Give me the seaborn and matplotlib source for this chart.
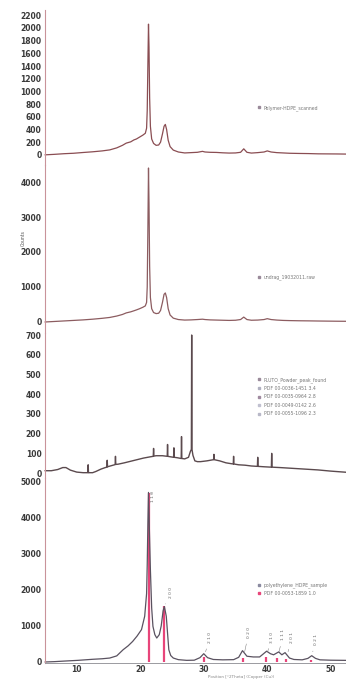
import matplotlib
matplotlib.use("Agg")
import matplotlib.pyplot as plt
import seaborn as sns
from matplotlib.lines import Line2D

sns.set_style("white")
plt.rcParams['font.family'] = ['DejaVu Sans']

# --- data (2theta in degrees, counts) ---
two_theta_top = [5.0, 6.5, 8.0, 9.5, 11.0, 12.5, 14.0, 15.2, 16.3, 17.2, 17.8, 18.5, 19.0, 19.4, 19.9,
                 20.4, 20.8, 21.0, 21.1, 21.2, 21.3, 21.38, 21.48, 21.6, 21.8, 22.1, 22.5, 22.9, 23.2, 23.5,
                 23.75, 23.95, 24.15, 24.4, 24.7, 25.2, 26.0, 27.0, 28.0, 29.0, 29.8, 30.2, 31.0, 32.0, 33.0,
                 34.0, 35.0, 35.8, 36.3, 36.8, 37.5, 38.5, 39.5, 40.0, 40.6, 41.5, 42.5, 43.5, 45.0, 46.5,
                 48.0, 49.5, 51.0, 52.5]
counts_polymer = [0, 8, 18, 25, 37, 48, 62, 78, 110, 150, 185, 205, 235, 250, 280,
                  310, 340, 420, 700, 1400, 2060, 1700, 900, 450, 250, 180, 150, 155, 200, 330,
                  450, 480, 400, 230, 130, 75, 45, 30, 35, 40, 55, 45, 40, 38, 32,
                  28, 30, 40, 95, 40, 28, 35, 45, 62, 45, 35, 30, 25, 22, 20,
                  16, 15, 14, 12]
counts_undrawn = [0, 15, 30, 45, 60, 80, 105, 130, 170, 215, 260, 290, 320, 345, 380,
                  420, 460, 560, 1000, 2600, 4400, 3400, 1600, 700, 380, 270, 240, 250, 330, 560,
                  790, 830, 700, 380, 200, 110, 70, 55, 60, 70, 80, 70, 60, 55, 50,
                  45, 50, 70, 140, 70, 50, 55, 70, 95, 70, 55, 45, 40, 35, 32,
                  28, 25, 22, 20]

two_theta_powder = [5.0, 6.0, 7.0, 7.8, 8.3, 9.0, 10.0, 11.0, 11.75, 11.8, 11.85, 12.5, 13.0, 13.8, 14.5,
                    14.75, 14.8, 14.85, 15.5, 16.05, 16.1, 16.15, 16.5, 17.5, 18.5, 19.5, 20.5, 21.5, 22.05, 22.1,
                    22.15, 22.5, 23.5, 24.25, 24.3, 24.35, 24.5, 25.25, 25.3, 25.35, 25.8, 26.45, 26.5, 26.55, 27.0,
                    27.6, 27.9, 28.05, 28.1, 28.15, 28.3, 28.6, 29.0, 29.5, 30.5, 31.55, 31.6, 31.65, 32.5, 33.5,
                    34.65, 34.7, 34.75, 35.5, 36.5, 37.5, 38.45, 38.5, 38.55, 39.5, 40.65, 40.7, 40.75, 42.0, 44.0,
                    46.0, 48.0, 50.0, 52.5]
counts_powder = [12, 12, 18, 28, 28, 15, 5, 2, 2, 42, 2, 2, 8, 20, 28,
                 30, 65, 32, 38, 43, 85, 44, 45, 52, 60, 68, 76, 82, 85, 125,
                 86, 88, 88, 85, 145, 85, 84, 80, 128, 80, 78, 74, 185, 74, 72,
                 80, 110, 120, 700, 120, 90, 62, 58, 58, 62, 68, 95, 68, 62, 52,
                 46, 85, 46, 42, 40, 36, 34, 80, 34, 32, 30, 100, 30, 28, 24,
                 20, 16, 10, 4]

two_theta_pe = [5.0, 6.5, 8.0, 10.2, 12.5, 14.0, 15.2, 16.3, 17.3, 18.1, 18.8, 19.5, 20.2, 20.7, 21.0,
                21.1, 21.2, 21.3, 21.45, 21.6, 21.8, 22.0, 22.3, 22.6, 23.0, 23.3, 23.6, 23.8, 24.1, 24.3,
                24.5, 24.8, 25.2, 26.0, 27.3, 28.5, 29.4, 30.0, 30.6, 31.5, 33.0, 34.7, 35.5, 36.1, 36.8,
                37.8, 38.8, 39.9, 40.5, 41.0, 41.8, 42.3, 42.8, 43.5, 44.2, 45.5, 46.4, 47.0, 47.6, 48.3,
                50.0, 52.5]
counts_pe = [0, 10, 25, 46, 75, 90, 110, 170, 340, 450, 570, 720, 900, 1270, 1900,
             2700, 3800, 4710, 3600, 2560, 1500, 990, 760, 666, 760, 1000, 1420, 1540, 1270, 800,
             340, 180, 110, 65, 46, 50, 120, 230, 120, 70, 60, 65, 130, 315, 160,
             140, 140, 300, 230, 200, 280, 200, 260, 110, 70, 60, 100, 175, 100, 60,
             50, 45]

ref_pos = [21.4, 23.8, 30.0, 36.2, 39.8, 41.6, 43.0, 46.9]
ref_int = [4700, 1550, 150, 110, 140, 100, 80, 60]
hkl = ["1 1 0", "2 0 0", "2 1 0", "0 2 0", "3 1 0", "1 1 1", "2 0 1", "0 2 1"]
hkl_text_x = [22.0, 24.8, 31.0, 37.1, 40.7, 42.5, 43.9, 47.7]
hkl_text_y = [4450, 1780, 530, 670, 540, 600, 520, 470]

legend_1 = ["Polymer-HDPE_scanned"]
legend_2 = ["undrag_19032011.raw"]
legend_3 = ["PLUTO_Powder_peak_found", "PDF 00-0036-1451 3.4", "PDF 00-0035-0964 2.8",
            "PDF 00-0049-0142 2.6", "PDF 00-0055-1096 2.3"]
legend_4 = ["polyethylene_HDPE_sample", "PDF 00-0053-1859 1.0"]

# --- layout ---
fig = plt.figure(figsize=(3.46, 6.79), dpi=100)
left, width = 0.130, 0.870
ax1 = fig.add_axes([left, 0.757, width, 0.228])
ax2 = fig.add_axes([left, 0.5096, width, 0.2474])
ax3 = fig.add_axes([left, 0.296, width, 0.2135])
ax4 = fig.add_axes([left, 0.02356, width, 0.2725])
axes = [ax1, ax2, ax3, ax4]

tick_kw = dict(fontsize=5.5, fontweight='bold', color='#3a3a3a')

sns.lineplot(x=two_theta_top, y=counts_polymer, ax=ax1, color='#8a4d52', lw=0.9, estimator=None)
sns.lineplot(x=two_theta_top, y=counts_undrawn, ax=ax2, color='#8c5c60', lw=0.9, estimator=None)
sns.lineplot(x=two_theta_powder, y=counts_powder, ax=ax3, color='#5b4a4e', lw=1.0, estimator=None)
ax4.vlines(ref_pos, 0, ref_int, color='#e8457a', lw=1.6, zorder=1)
sns.lineplot(x=two_theta_pe, y=counts_pe, ax=ax4, color='#5a5260', lw=0.9, estimator=None, zorder=2)

ax1.set_ylim(-160, 2280)
ax1.set_yticks(range(0, 2201, 200))
ax2.set_ylim(-314, 4486)
ax2.set_yticks(range(0, 4001, 1000))
ax3.set_ylim(-25, 710)
ax3.set_yticks(range(0, 701, 100))
ax4.set_ylim(-28, 5111)
ax4.set_yticks(range(0, 5001, 1000))

for ax in axes:
    ax.set_xlim(5, 52.4)
    ax.patch.set_alpha(0)
    for s in ['top', 'right', 'bottom']:
        ax.spines[s].set_visible(False)
    ax.spines['left'].set_color('#c9939a')
    ax.spines['left'].set_linewidth(0.8)
    ax.tick_params(axis='y', length=0, pad=2.5)
    for lab in ax.get_yticklabels():
        lab.set(**tick_kw)
    ax.set_xlabel('')
    ax.set_ylabel('')
    for line in ax.get_lines():
        line.set_clip_on(False)
    if ax is not ax4:
        ax.set_xticks([])

ax4.spines['bottom'].set_visible(True)
ax4.spines['bottom'].set_color('#9a9aa0')
ax4.spines['bottom'].set_linewidth(0.7)
ax4.set_xticks([10, 20, 30, 40, 50])
ax4.tick_params(axis='x', length=1.0, width=0.5, pad=0.4, colors='#3a3a3a')
for lab in ax4.get_xticklabels():
    lab.set(**tick_kw)

ax2.text(-0.073, 0.565, 'Counts', transform=ax2.transAxes, rotation=90,
         fontsize=3.3, color='#555555', ha='center', va='center')

# peak index labels
for px, py, lab, tx, ty in zip(ref_pos, ref_int, hkl, hkl_text_x, hkl_text_y):
    ax4.annotate(lab, xy=(px + 0.15, max(py, 150) + 60), xytext=(tx, ty),
                 fontsize=3.2, color='#666666', rotation=90, ha='center', va='bottom',
                 arrowprops=dict(arrowstyle='-', lw=0.35, color='#777777'))

# legends
def add_legend(ax, labels, colors, y0, spacing=0.55):
    handles = [Line2D([], [], ls='none', marker='s', ms=1.8, color=c) for c in colors]
    ax.legend(handles, labels, loc='upper left', bbox_to_anchor=(0.70, y0), frameon=False,
              fontsize=3.3, labelcolor='#777777', handlelength=0.8, handletextpad=0.6,
              labelspacing=spacing, borderaxespad=0)

add_legend(ax1, legend_1, ['#9a8a9a'], 0.40)
add_legend(ax2, legend_2, ['#9a8a9a'], 0.36)
add_legend(ax3, legend_3, ['#9a8a9a', '#b0b0c0', '#a08aa0', '#c0c0d0', '#b8b8c8'], 0.71, 0.75)
add_legend(ax4, legend_4, ['#8a8aa0', '#e8457a'], 0.445)

fig.text(0.60, 0.0, 'Position [\u00b02Theta] (Copper (Cu))', fontsize=3.0, color='#888888',
         va='bottom')

fig.savefig('out.png', dpi=100)
